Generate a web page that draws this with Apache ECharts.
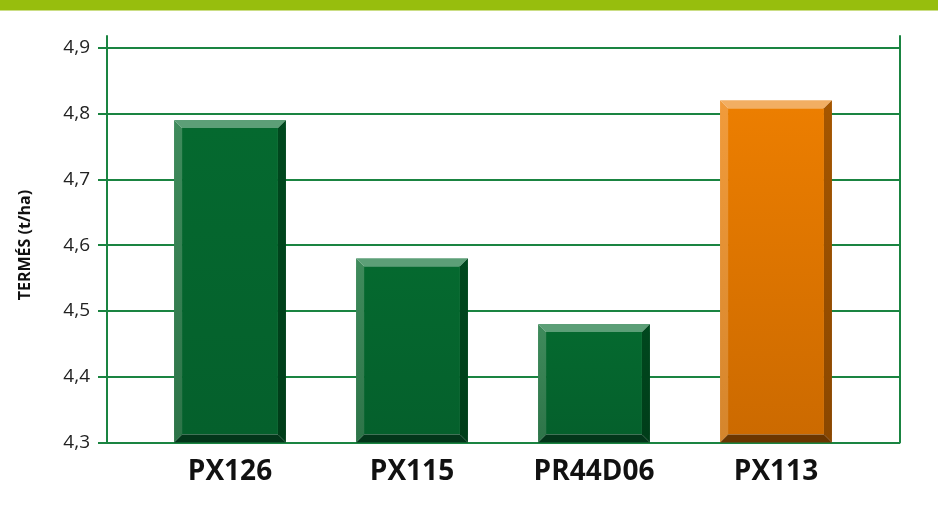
<!DOCTYPE html>
<html>
<head>
<meta charset="utf-8">
<script src="https://cdn.jsdelivr.net/npm/echarts@6/dist/echarts.min.js"></script>
<style>
  html, body { margin: 0; padding: 0; background: #fff; }
  #main { width: 938px; height: 506px; }
</style>
</head>
<body>
<div id="main"></div>
<script>
  // hibrid adatok
  var categories = ['PX126', 'PX115', 'PR44D06', 'PX113'];
  var yields = [4.79, 4.58, 4.48, 4.82];
  var yMin = 4.3, yMax = 4.9, yStep = 0.1;
  var highlighted = 'PX113';

  var lineColor = '#1A8441';
  var font = '"Open Sans", sans-serif';

  // színek a ferde élekhez
  var shades = {
    green: { top: '#5C9F77', left: ['#3F8B5C', '#2D7448'], right: ['#00481E', '#003D19'],
             bottom: '#03361A', face: ['#05692F', '#05602C'] },
    orange: { top: '#F2AE62', left: ['#F19B3B', '#D5852C'], right: ['#A55600', '#8A4700'],
              bottom: '#6B3600', face: ['#EC7E00', '#CC6A00'] }
  };

  function grad(c) {
    return new echarts.graphic.LinearGradient(0, 0, 0, 1, [
      { offset: 0, color: c[0] }, { offset: 1, color: c[1] }
    ]);
  }

  function renderBar(params, api) {
    var idx = api.value(0);
    var top = api.coord([idx, api.value(1)]);
    var base = api.coord([idx, yMin]);
    var w = api.size([1, 0])[0] * 0.615;
    var l = top[0] - w / 2, r = top[0] + w / 2, t = top[1], b = base[1];
    var bv = 8;
    var s = categories[idx] === highlighted ? shades.orange : shades.green;
    return {
      type: 'group',
      children: [
        { type: 'rect', shape: { x: l + bv, y: t + bv, width: w - 2 * bv, height: b - t - 2 * bv },
          style: { fill: grad(s.face) } },
        { type: 'polygon', shape: { points: [[l, t], [r, t], [r - bv, t + bv], [l + bv, t + bv]] },
          style: { fill: s.top } },
        { type: 'polygon', shape: { points: [[l, t], [l + bv, t + bv], [l + bv, b - bv], [l, b]] },
          style: { fill: grad(s.left) } },
        { type: 'polygon', shape: { points: [[r, t], [r, b], [r - bv, b - bv], [r - bv, t + bv]] },
          style: { fill: grad(s.right) } },
        { type: 'polygon', shape: { points: [[l, b], [l + bv, b - bv], [r - bv, b - bv], [r, b]] },
          style: { fill: s.bottom } }
      ]
    };
  }

  var myChart = echarts.init(document.getElementById('main'));

  var option = {
    backgroundColor: '#fff',
    animation: false,
    graphic: [{
      type: 'rect', left: 0, top: 0, shape: { width: 938, height: 10.5 },
      style: { fill: '#97BE0D' }
    }],
    grid: [
      // keret vonalak (felül túllógnak)
      { left: 107, right: 38, top: 36, bottom: 63.5 },
      // rács és skála
      { left: 107, right: 38, top: 47.7, bottom: 63.5 },
      // oszlopok
      { left: 139, right: 71, top: 47.7, bottom: 63.5 }
    ],
    xAxis: [
      { gridIndex: 0, type: 'value', show: false },
      { gridIndex: 1, type: 'value', show: false },
      {
        gridIndex: 2, type: 'category', data: categories,
        axisLine: { show: false }, axisTick: { show: false },
        axisLabel: { margin: 16, color: '#111', fontSize: 28, fontWeight: 'bold', fontFamily: font }
      }
    ],
    yAxis: [
      {
        gridIndex: 0, type: 'value', position: 'left', min: 0, max: 1,
        axisLine: { show: true, lineStyle: { color: lineColor, width: 2 } },
        axisTick: { show: false }, axisLabel: { show: false }, splitLine: { show: false }
      },
      {
        gridIndex: 0, type: 'value', position: 'right', min: 0, max: 1,
        axisLine: { show: true, lineStyle: { color: lineColor, width: 2 } },
        axisTick: { show: false }, axisLabel: { show: false }, splitLine: { show: false }
      },
      {
        gridIndex: 1, type: 'value', min: yMin, max: yMax, interval: yStep,
        name: 'TERMÉS (t/ha)', nameLocation: 'middle', nameGap: 74, nameRotate: 90,
        nameTextStyle: { color: '#111', fontSize: 16, fontWeight: 'bold', fontFamily: font },
        axisLine: { show: true, lineStyle: { color: lineColor, width: 2 } },
        axisTick: { show: true, length: 9, lineStyle: { color: lineColor, width: 2 } },
        axisLabel: {
          margin: 17, color: '#222', fontSize: 19, fontFamily: font,
          formatter: function (v) { return v.toFixed(1).replace('.', ','); }
        },
        splitLine: { show: true, lineStyle: { color: lineColor, width: 2 } }
      },
      { gridIndex: 2, type: 'value', min: yMin, max: yMax, show: false }
    ],
    series: [{
      type: 'custom',
      xAxisIndex: 2,
      yAxisIndex: 3,
      renderItem: renderBar,
      encode: { x: 0, y: 1 },
      data: categories.map(function (c, i) { return [i, yields[i]]; }),
      z: 5
    }]
  };

  myChart.setOption(option);
</script>
</body>
</html>
